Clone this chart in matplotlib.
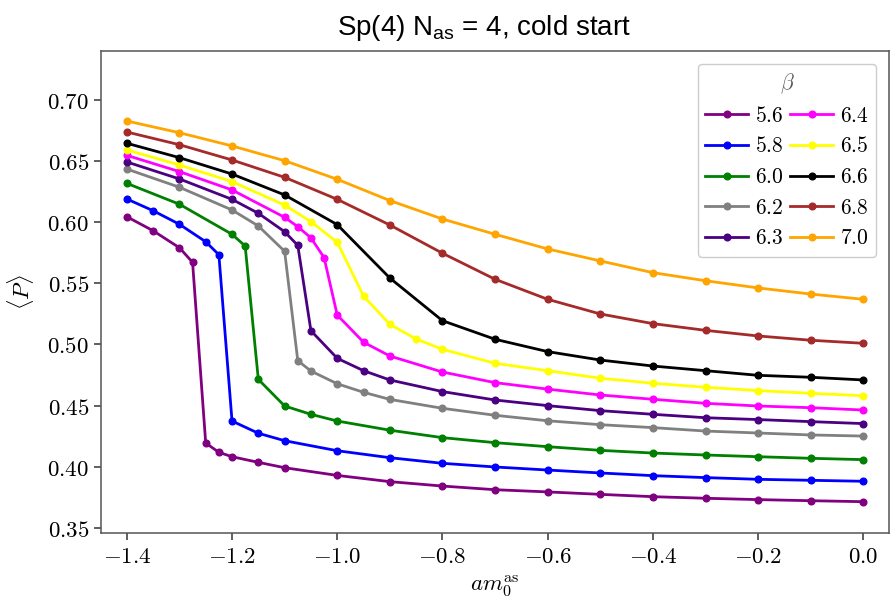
import matplotlib
matplotlib.use("Agg")
import matplotlib.pyplot as plt
from matplotlib.ticker import FuncFormatter, MultipleLocator

plt.rcParams['mathtext.fontset'] = 'cm'
plt.rcParams['font.family'] = ['Liberation Sans', 'DejaVu Sans']

tail_x = [-0.9, -0.8, -0.7, -0.6, -0.5, -0.4, -0.3, -0.2, -0.1, 0.0]

betas = ["5.6", "5.8", "6.0", "6.2", "6.3", "6.4", "6.5", "6.6", "6.8", "7.0"]
colors = ["purple", "blue", "green", "gray", "indigo", "magenta", "yellow", "black", "brown", "orange"]

x_56 = [-1.4, -1.35, -1.3, -1.275, -1.25, -1.225, -1.2, -1.15, -1.1, -1.0] + tail_x
p_56 = [0.6045, 0.5930, 0.5791, 0.5672, 0.4193, 0.4117, 0.4081, 0.4035, 0.3991, 0.3928,
        0.3877, 0.3841, 0.3811, 0.3793, 0.3773, 0.3754, 0.3741, 0.3730, 0.3721, 0.3713]

x_58 = [-1.4, -1.35, -1.3, -1.25, -1.225, -1.2, -1.15, -1.1, -1.0] + tail_x
p_58 = [0.6190, 0.6094, 0.5983, 0.5840, 0.5734, 0.4373, 0.4273, 0.4212, 0.4130,
        0.4073, 0.4027, 0.3997, 0.3972, 0.3948, 0.3926, 0.3910, 0.3896, 0.3888, 0.3880]

x_60 = [-1.4, -1.3, -1.2, -1.175, -1.15, -1.1, -1.05, -1.0] + tail_x
p_60 = [0.6318, 0.6147, 0.5901, 0.5805, 0.4714, 0.4496, 0.4428, 0.4373,
        0.4298, 0.4237, 0.4196, 0.4163, 0.4133, 0.4111, 0.4095, 0.4081, 0.4068, 0.4057]

x_62 = [-1.4, -1.3, -1.2, -1.15, -1.1, -1.075, -1.05, -1.0, -0.95] + tail_x
p_62 = [0.6435, 0.6286, 0.6100, 0.5969, 0.5762, 0.4867, 0.4782, 0.4678, 0.4608,
        0.4550, 0.4477, 0.4420, 0.4375, 0.4343, 0.4319, 0.4291, 0.4275, 0.4259, 0.4250]

x_63 = [-1.4, -1.3, -1.2, -1.15, -1.1, -1.075, -1.05, -1.0, -0.95] + tail_x
p_63 = [0.6493, 0.6354, 0.6187, 0.6073, 0.5922, 0.5810, 0.5112, 0.4886, 0.4785,
        0.4709, 0.4614, 0.4545, 0.4499, 0.4458, 0.4428, 0.4400, 0.4385, 0.4368, 0.4352]

x_64 = [-1.4, -1.3, -1.2, -1.1, -1.075, -1.05, -1.025, -1.0, -0.95] + tail_x
p_64 = [0.6547, 0.6414, 0.6264, 0.6040, 0.5963, 0.5872, 0.5710, 0.5240, 0.5018,
        0.4905, 0.4774, 0.4687, 0.4634, 0.4586, 0.4551, 0.4518, 0.4496, 0.4482, 0.4463]

x_65 = [-1.4, -1.3, -1.2, -1.1, -1.05, -1.0, -0.95, -0.9, -0.85, -0.8, -0.7, -0.6,
        -0.5, -0.4, -0.3, -0.2, -0.1, 0.0]
p_65 = [0.6591, 0.6468, 0.6332, 0.6140, 0.6004, 0.5836, 0.5395, 0.5164, 0.5044, 0.4960,
        0.4845, 0.4785, 0.4723, 0.4682, 0.4649, 0.4622, 0.4600, 0.4580]

x_66 = [-1.4, -1.3, -1.2, -1.1, -1.0] + tail_x
p_66 = [0.6646, 0.6528, 0.6394, 0.6223, 0.5980,
        0.5543, 0.5194, 0.5042, 0.4941, 0.4872, 0.4823, 0.4785, 0.4747, 0.4731, 0.4709]

x_68 = [-1.4, -1.3, -1.2, -1.1, -1.0] + tail_x
p_68 = [0.6738, 0.6634, 0.6509, 0.6367, 0.6187,
        0.5977, 0.5746, 0.5533, 0.5369, 0.5249, 0.5170, 0.5115, 0.5069, 0.5034, 0.5009]

x_70 = [-1.4, -1.3, -1.2, -1.1, -1.0] + tail_x
p_70 = [0.6828, 0.6732, 0.6624, 0.6503, 0.6351,
        0.6177, 0.6026, 0.5901, 0.5781, 0.5683, 0.5587, 0.5521, 0.5462, 0.5412, 0.5369]

xs = [x_56, x_58, x_60, x_62, x_63, x_64, x_65, x_66, x_68, x_70]
ps = [p_56, p_58, p_60, p_62, p_63, p_64, p_65, p_66, p_68, p_70]

fig = plt.figure(figsize=(8.9, 6.01), dpi=100)
ax = fig.add_axes([0.1135, 0.1136, 0.8855, 0.802])

for b, c, x, p in zip(betas, colors, xs, ps):
    ax.plot(x, p, '-o', color=c, lw=2.0, ms=4.8, label=f'${b}$')

ax.set_xlim(-1.449, 0.049)
ax.set_ylim(0.3459, 0.7403)
ax.xaxis.set_major_locator(MultipleLocator(0.2))
ax.yaxis.set_major_locator(MultipleLocator(0.05))
ax.xaxis.set_major_formatter(FuncFormatter(lambda v, pos: f'${v:.1f}$'))
ax.yaxis.set_major_formatter(FuncFormatter(lambda v, pos: f'${v:.2f}$'))
ax.tick_params(labelsize=16.5, length=5, width=1.2, color='#444444', direction='out')
for s in ax.spines.values():
    s.set_color('#555555')
    s.set_linewidth(1.1)

ax.set_xlabel(r'$am_0^{\rm as}$', fontsize=16.5, labelpad=4)
ax.set_ylabel(r'$\langle P\rangle$', fontsize=16.5, labelpad=8)
ax.set_title(r'Sp(4) N$\mathregular{_{as}}$ = 4, cold start', fontsize=20, pad=11, x=0.486)

leg = ax.legend(title=r'$\beta$', ncol=2, loc='upper right', fontsize=15.5,
                title_fontsize=15.5, handlelength=2.0, columnspacing=0.3,
                handletextpad=0.3, labelspacing=0.45, borderpad=0.35,
                bbox_to_anchor=(0.997, 0.995), framealpha=1.0, edgecolor='#cccccc')
leg.get_title().set_color('#555555')

fig.savefig('out.png', dpi=100)
